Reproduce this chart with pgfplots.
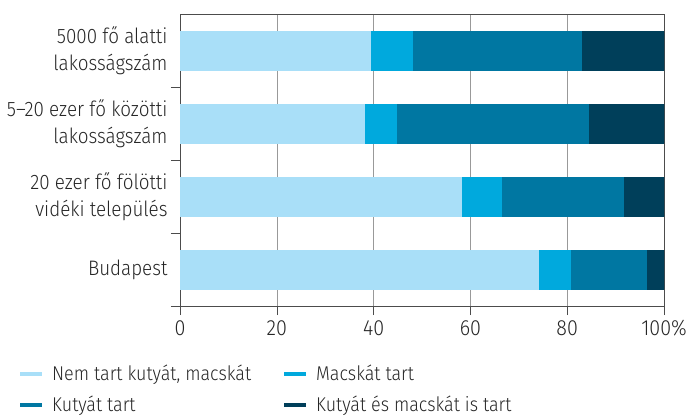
\documentclass[border=0pt]{standalone}
\usepackage{pgfplots}
\pgfplotsset{compat=1.18}
\usepackage{fontspec}
\setmainfont{Fira Sans}[UprightFont={* Light}, FakeStretch=0.9]
\definecolor{c1}{HTML}{A9DFF8}
\definecolor{c2}{HTML}{00A9DD}
\definecolor{c3}{HTML}{0077A2}
\definecolor{c4}{HTML}{003F5A}
\begin{document}
\begin{tikzpicture}
\useasboundingbox (0,0) rectangle (692bp,416bp);
\begin{axis}[
  at={(180bp,110bp)}, anchor=south west,
  scale only axis, width=484bp, height=292bp,
  xbar stacked, bar width=38.5bp,
  xmin=0, xmax=100, ymin=-0.5, ymax=3.5,
  xtick={0,20,40,60,80,100},
  xticklabels={0,20,40,60,80,100\%},
  ytick={0,1,2,3},
  yticklabels={Budapest,{20 ezer fő fölötti\\vidéki település},{5–20 ezer fő közötti\\lakosságszám},{5000 fő alatti\\lakosságszám}},
  minor ytick={-0.5,0.5,1.5,2.5},
  xtick pos=bottom, ytick pos=left,
  tick align=outside,
  major tick length=9bp, minor tick length=9bp,
  every major y tick/.append style={draw=none},
  tick style={gray!60!black, line width=0.6bp},
  xmajorgrids,
  grid style={gray!80, line width=0.6bp},
  axis line style={gray!60!black, line width=0.6bp},
  /pgf/number format/assume math mode=true,
  yticklabel style={align=right, font=\fontsize{21}{27}\selectfont, text=black!85},
  xticklabel style={font=\fontsize{22}{24}\selectfont, text=black!85, yshift=-2bp},
  legend style={at={(axis description cs:0,0)}, anchor=north west, xshift=-165bp, yshift=-55bp,
    draw=none, fill=none, font=\fontsize{20}{22}\selectfont, text=black!85, row sep=10bp,
    /tikz/every odd column/.append style={column sep=6bp}},
  legend columns=2,
  legend cell align=left,
  legend image code/.code={\draw[#1, line width=4bp] (0bp,0bp) -- (22bp,0bp);},
]
\addplot[fill=c1, draw=c1] coordinates {(74.0,0) (58.1,1) (38.0,2) (39.3,3)};
\addlegendentry{\makebox[228bp][l]{Nem tart kutyát, macskát}}
\addplot[fill=c2, draw=c2] coordinates {(6.6,0) (8.2,1) (6.6,2) (8.6,3)};
\addlegendentry{Macskát tart}
\addplot[fill=c3, draw=c3] coordinates {(15.7,0) (25.2,1) (39.7,2) (35.0,3)};
\addlegendentry{\makebox[228bp][l]{Kutyát tart}}
\addplot[fill=c4, draw=c4] coordinates {(3.7,0) (8.5,1) (15.7,2) (17.1,3)};
\addlegendentry{Kutyát és macskát is tart}
\end{axis}
\end{tikzpicture}
\end{document}
